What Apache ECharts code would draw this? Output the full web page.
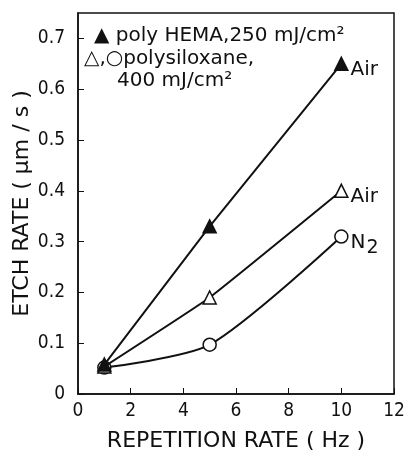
<!DOCTYPE html>
<html>
<head>
<meta charset="utf-8">
<script src="https://cdn.jsdelivr.net/npm/echarts@6/dist/echarts.min.js"></script>
<style>
  html, body { margin: 0; padding: 0; background: #fff; }
  #chart { width: 406px; height: 451px; }
</style>
</head>
<body>
<div id="chart"></div>
<script>
// 重复频率 (Hz)
const repRate = [1, 5, 10];
// 刻蚀速率 (μm/s)
const hemaAir = [0.058, 0.33, 0.65];
const siloxaneAir = [0.054, 0.19, 0.40];
const siloxaneN2 = [0.052, 0.097, 0.31];
// 曲线末端标注
const endLabels = ['Air', 'Air', 'N{sub|2}'];
// 刻度
const xTicks = [0, 2, 4, 6, 8, 10, 12];
const yTicks = [0, 0.1, 0.2, 0.3, 0.4, 0.5, 0.6, 0.7];

const NARROW = '"DejaVu Sans Condensed", "DejaVu Sans", sans-serif';
const WIDE = '"DejaVu Sans", sans-serif';
const INK = '#111';

function makeSeries(ys, symbol, fill, smooth, tag, z) {
    const last = ys.length - 1;
    const data = repRate.map((x, i) => {
        if (i === last) {
            return {
                value: [x, ys[i]],
                label: {
                    show: true, position: 'right', distance: 2, offset: [0, 6],
                    formatter: tag, color: INK, fontFamily: WIDE, fontSize: 20,
                    rich: {
                        sub: { fontFamily: WIDE, fontSize: 19, color: INK, padding: [12, 0, 0, 1] }
                    }
                }
            };
        }
        return [x, ys[i]];
    });
    return {
        type: 'line',
        data: data,
        smooth: smooth,
        symbol: symbol,
        symbolSize: 13,
        lineStyle: { color: INK, width: 2 },
        itemStyle: { color: fill, borderColor: INK, borderWidth: 1.5 },
        z: z
    };
}

const chart = echarts.init(document.getElementById('chart'));
chart.setOption({
    animation: false,
    backgroundColor: '#fff',
    grid: { left: 78, right: 12, top: 13, bottom: 57, containLabel: false, outerBoundsMode: 'none' },
    xAxis: {
        type: 'value', min: 0, max: 12, interval: 2,
        name: 'REPETITION RATE ( Hz )', nameLocation: 'middle', nameGap: 36,
        nameTextStyle: { color: INK, fontFamily: WIDE, fontSize: 22 },
        axisLine: { lineStyle: { color: INK, width: 1.5 } },
        axisTick: { inside: true, length: 6, lineStyle: { color: INK }, customValues: xTicks },
        axisLabel: { color: INK, fontFamily: NARROW, fontSize: 19, margin: 8, customValues: xTicks },
        splitLine: { show: false }
    },
    yAxis: {
        type: 'value', min: 0, max: 0.75, interval: 0.1,
        name: 'ETCH RATE ( μm / s )', nameLocation: 'middle', nameGap: 45,
        nameMoveOverlap: false,
        nameTextStyle: { color: INK, fontFamily: WIDE, fontSize: 22 },
        axisLine: { lineStyle: { color: INK, width: 1.5 } },
        axisTick: { inside: true, length: 6, lineStyle: { color: INK }, customValues: yTicks },
        axisLabel: {
            color: INK, fontFamily: NARROW, fontSize: 19, margin: 13, customValues: yTicks,
            formatter: v => (v === 0 ? '0' : v.toFixed(1))
        },
        splitLine: { show: false }
    },
    graphic: [
        // 外框
        {
            type: 'rect',
            shape: { x: 78, y: 13, width: 316, height: 381 },
            style: { fill: 'none', stroke: INK, lineWidth: 1.5 }
        },
        // 图例说明
        {
            type: 'text', left: 94, top: 26,
            style: { text: '▲ poly HEMA,250 mJ/cm²', fill: INK, font: '20px "DejaVu Sans"' }
        },
        {
            type: 'text', left: 84, top: 49,
            style: { text: '△,○polysiloxane,', fill: INK, font: '20px "DejaVu Sans"' }
        },
        {
            type: 'text', left: 117, top: 71,
            style: { text: '400 mJ/cm²', fill: INK, font: '20px "DejaVu Sans"' }
        }
    ],
    series: [
        makeSeries(siloxaneN2, 'circle', '#fff', 0.25, endLabels[2], 3),
        makeSeries(siloxaneAir, 'triangle', '#fff', 0.1, endLabels[1], 4),
        makeSeries(hemaAir, 'triangle', INK, false, endLabels[0], 5)
    ]
});
</script>
</body>
</html>
